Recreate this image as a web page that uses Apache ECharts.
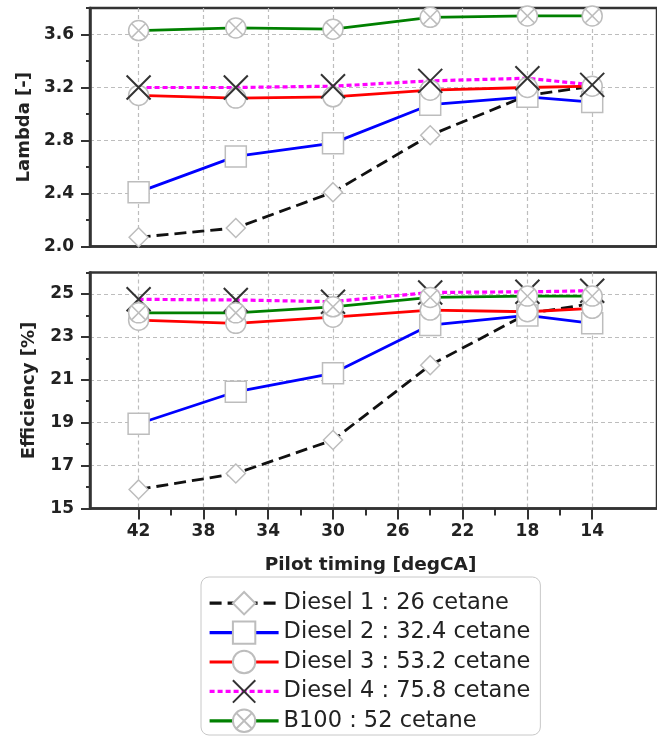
<!DOCTYPE html>
<html>
<head>
<meta charset="utf-8">
<script src="https://cdn.jsdelivr.net/npm/echarts@6/dist/echarts.min.js"></script>
<style>
  html, body { margin: 0; padding: 0; background: #ffffff; }
  #chart { width: 657px; height: 738px; }
</style>
</head>
<body>
<div id="chart"></div>
<script>
// Pilot injection timing (degCA) for each measured point
const pilotTiming = [42, 36, 30, 24, 18, 14];

// Fuel names as shown in the legend
const fuelNames = [
  'Diesel 1 : 26 cetane',
  'Diesel 2 : 32.4 cetane',
  'Diesel 3 : 53.2 cetane',
  'Diesel 4 : 75.8 cetane',
  'B100 : 52 cetane'
];

// Lambda [-]
const lambdaDiesel1 = [2.07, 2.14, 2.41, 2.84, 3.14, 3.21];
const lambdaDiesel2 = [2.41, 2.68, 2.78, 3.07, 3.13, 3.09];
const lambdaDiesel3 = [3.14, 3.12, 3.13, 3.18, 3.20, 3.21];
const lambdaDiesel4 = [3.20, 3.20, 3.21, 3.25, 3.27, 3.22];
const lambdaB100    = [3.63, 3.65, 3.64, 3.73, 3.74, 3.74];

// Efficiency [%]
const effDiesel1 = [15.89, 16.63, 18.19, 21.68, 24.08, 24.55];
const effDiesel2 = [18.95, 20.44, 21.30, 23.55, 24.00, 23.63];
const effDiesel3 = [23.78, 23.63, 23.92, 24.25, 24.17, 24.33];
const effDiesel4 = [24.75, 24.72, 24.64, 25.07, 25.10, 25.15];
const effB100    = [24.12, 24.12, 24.40, 24.84, 24.90, 24.90];

// Axis tick values
const timingTicks      = [42, 38, 34, 30, 26, 22, 18, 14];
const timingMinorTicks = [40, 36, 32, 28, 24, 20, 16];
const lambdaTicks      = [2.0, 2.4, 2.8, 3.2, 3.6];
const lambdaMinorTicks = [2.2, 2.6, 3.0, 3.4, 3.8];
const effTicks         = [15, 17, 19, 21, 23, 25];
const effMinorTicks    = [16, 18, 20, 22, 24, 26];

const FONT = 'DejaVu Sans';
const AXIS_COLOR = '#333333';
const TEXT_COLOR = '#222222';
const GRID_LINE = { show: true, lineStyle: { color: '#bdbdbd', type: [4, 3], width: 1.2 } };

const SYMBOL_X = 'path://M0,0L20,20M20,0L0,20';
const SYMBOL_CIRCLE_X = 'path://M0,10A10,10,0,1,1,20,10A10,10,0,1,1,0,10ZM2.93,2.93L17.07,17.07M17.07,2.93L2.93,17.07';

const styles = [
  { color: '#111111', lineType: [12, 6], width: 2.8, symbol: 'diamond', size: 19, border: '#bdbdbd', borderWidth: 1.5 },
  { color: '#0000ff', lineType: 'solid', width: 2.8, symbol: 'rect', size: 21, border: '#bdbdbd', borderWidth: 1.5 },
  { color: '#ff0000', lineType: 'solid', width: 2.8, symbol: 'circle', size: 20, border: '#bdbdbd', borderWidth: 1.5 },
  { color: '#ff00ff', lineType: [5, 3], width: 3.2, symbol: SYMBOL_X, size: 24, border: '#333333', borderWidth: 2 },
  { color: '#008000', lineType: 'solid', width: 2.8, symbol: SYMBOL_CIRCLE_X, size: 20, border: '#bdbdbd', borderWidth: 1.5 }
];

function pairs(values) {
  return pilotTiming.map((t, i) => [t, values[i]]);
}

function lineSeries(idx, values, axisIdx) {
  const s = styles[idx];
  return {
    name: fuelNames[idx],
    type: 'line',
    xAxisIndex: axisIdx,
    yAxisIndex: axisIdx,
    data: pairs(values),
    symbol: s.symbol,
    symbolSize: s.size,
    showSymbol: true,
    lineStyle: { color: s.color, width: s.width, type: s.lineType },
    itemStyle: { color: '#ffffff', borderColor: s.border, borderWidth: s.borderWidth },
    emphasis: { disabled: true },
    silent: true
  };
}

// dark cross drawn over the B100 circles
function crossOverlay(values, axisIdx) {
  return {
    name: 'B100 cross',
    type: 'scatter',
    xAxisIndex: axisIdx,
    yAxisIndex: axisIdx,
    data: pairs(values),
    symbol: SYMBOL_X,
    symbolSize: 14,
    itemStyle: { color: 'rgba(0,0,0,0)', borderColor: '#333333', borderWidth: 2 },
    emphasis: { disabled: true },
    silent: true
  };
}

const lambdaSets = [lambdaDiesel1, lambdaDiesel2, lambdaDiesel3, lambdaDiesel4, lambdaB100];
const effSets = [effDiesel1, effDiesel2, effDiesel3, effDiesel4, effB100];

const series = [];
lambdaSets.forEach((v, i) => series.push(lineSeries(i, v, 0)));
series.push(crossOverlay(lambdaB100, 0));
effSets.forEach((v, i) => series.push(lineSeries(i, v, 1)));
series.push(crossOverlay(effB100, 1));

const tickLabel = { fontFamily: FONT, fontWeight: 'bold', fontSize: 17, color: TEXT_COLOR };
const nameStyle = { fontFamily: FONT, fontWeight: 'bold', fontSize: 18, color: TEXT_COLOR };

function timingAxis(gridIndex, withLabels) {
  return {
    type: 'value', gridIndex, min: 10, max: 45, inverse: true, position: 'bottom',
    axisLine: { show: true, onZero: false, lineStyle: { color: AXIS_COLOR, width: 2.5 } },
    axisTick: { show: withLabels, customValues: timingTicks, length: 11, lineStyle: { color: AXIS_COLOR, width: 2 } },
    axisLabel: { show: withLabels, customValues: timingTicks, margin: 15, ...tickLabel },
    splitLine: { ...GRID_LINE, customValues: timingTicks },
    name: withLabels ? 'Pilot timing [degCA]' : '',
    nameLocation: 'middle',
    nameGap: 47,
    nameTextStyle: { ...nameStyle, fontSize: 18.5, padding: [0, 6, 0, 0] }
  };
}

function minorAxisX(gridIndex) {
  return {
    type: 'value', gridIndex, min: 10, max: 45, inverse: true, position: 'bottom',
    axisLine: { show: false },
    axisTick: { show: true, customValues: timingMinorTicks, length: 7, lineStyle: { color: AXIS_COLOR, width: 2 } },
    axisLabel: { show: false },
    splitLine: { show: false }
  };
}

function valueAxis(gridIndex, min, max, ticks, name, nameGap, fmt) {
  return {
    type: 'value', gridIndex, min, max, position: 'left',
    axisLine: { show: true, onZero: false, lineStyle: { color: AXIS_COLOR, width: 2.5 } },
    axisTick: { show: true, customValues: ticks, length: 9, lineStyle: { color: AXIS_COLOR, width: 2 } },
    axisLabel: { show: true, customValues: ticks, margin: 16, formatter: fmt, ...tickLabel },
    splitLine: { ...GRID_LINE, customValues: ticks },
    name, nameLocation: 'middle', nameGap, nameTextStyle: nameStyle
  };
}

function minorAxisY(gridIndex, min, max, ticks) {
  return {
    type: 'value', gridIndex, min, max, position: 'left',
    axisLine: { show: false },
    axisTick: { show: true, customValues: ticks, length: 4, lineStyle: { color: AXIS_COLOR, width: 2 } },
    axisLabel: { show: false },
    splitLine: { show: false }
  };
}

// legend entries carry the series line colour with a thicker stroke
const legendData = fuelNames.map((name, i) => ({
  name,
  lineStyle: { width: 3.2, color: styles[i].color, type: styles[i].lineType }
}));

const option = {
  animation: false,
  backgroundColor: '#ffffff',
  grid: [
    { left: 90, top: 8, width: 579, height: 238.5, show: true, borderColor: AXIS_COLOR, borderWidth: 2.5, backgroundColor: 'transparent' },
    { left: 90, top: 272.5, width: 579, height: 236, show: true, borderColor: AXIS_COLOR, borderWidth: 2.5, backgroundColor: 'transparent' }
  ],
  xAxis: [
    timingAxis(0, false),
    timingAxis(1, true),
    minorAxisX(1)
  ],
  yAxis: [
    valueAxis(0, 2.0, 3.8, lambdaTicks, 'Lambda [-]', 57, v => v.toFixed(1)),
    valueAxis(1, 15, 26, effTicks, 'Efficiency [%]', 52, v => String(v)),
    minorAxisY(0, 2.0, 3.8, lambdaMinorTicks),
    minorAxisY(1, 15, 26, effMinorTicks)
  ],
  legend: {
    data: legendData,
    orient: 'vertical',
    left: 201,
    top: 577,
    padding: [14, 10, 2, 7],
    itemWidth: 69,
    itemHeight: 28,
    itemGap: 5,
    borderColor: '#c8c8c8',
    borderWidth: 1,
    borderRadius: 8,
    backgroundColor: '#ffffff',
    textStyle: { fontFamily: FONT, fontSize: 22.5, color: TEXT_COLOR },
    selectedMode: false
  },
  series
};

const chart = echarts.init(document.getElementById('chart'), null, { renderer: 'canvas' });
chart.setOption(option);
</script>
</body>
</html>
